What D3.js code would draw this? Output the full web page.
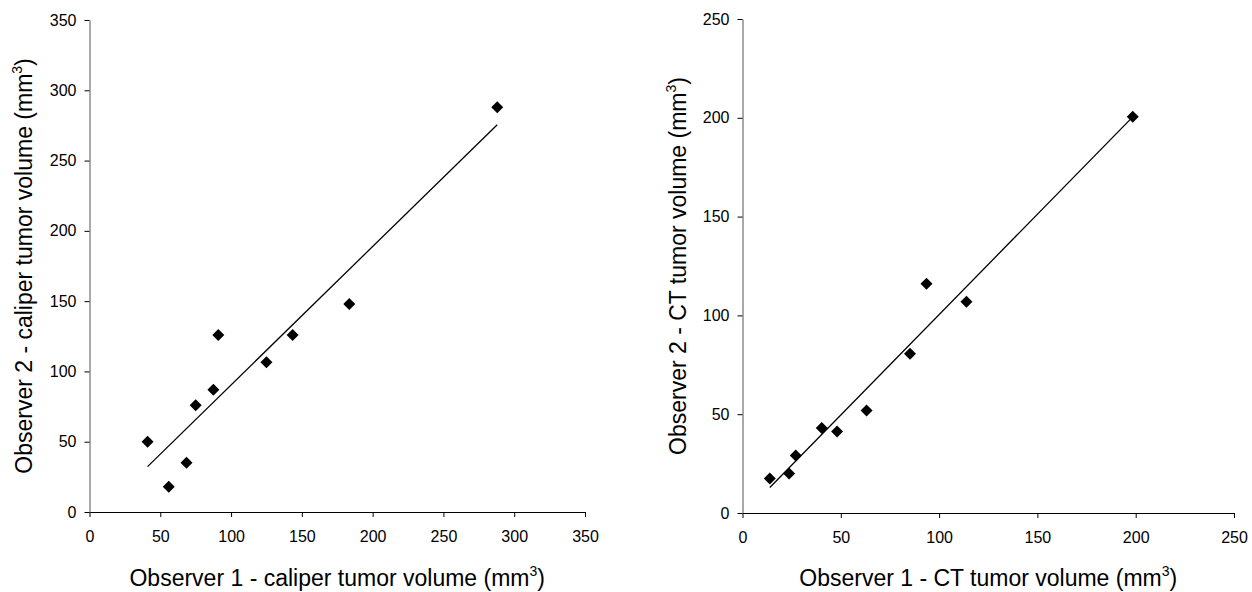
<!DOCTYPE html>
<html>
<head>
<meta charset="utf-8">
<script src="https://cdn.jsdelivr.net/npm/d3@7"></script>
<style>
  html, body { margin: 0; padding: 0; background: #fff; }
  svg { display: block; font-family: "Liberation Sans", Arial, sans-serif; }
</style>
</head>
<body>
<svg id="chart" width="1252" height="592"></svg>
<script>
// ---- Data ----
const caliperObs1 = [41, 56, 68.5, 75, 87.5, 91, 125, 143.5, 183.5, 288];
const caliperObs2 = [50, 18, 35, 76, 87, 126, 106.5, 126, 148, 288];
const ctObs1 = [13.9, 23.7, 27.1, 40.3, 48.1, 63.1, 85.2, 93.6, 113.9, 198.5];
const ctObs2 = [17.5, 20, 29.1, 43, 41.3, 51.9, 80.6, 116, 106.9, 200.5];
const caliperTicks = [0, 50, 100, 150, 200, 250, 300, 350];
const ctTicks = [0, 50, 100, 150, 200, 250];
const caliperXTitle = "Observer 1 - caliper tumor volume (mm";
const caliperYTitle = "Observer 2 - caliper tumor volume (mm";
const ctXTitle = "Observer 1 - CT tumor volume (mm";
const ctYTitle = "Observer 2 - CT tumor volume (mm";

const svg = d3.select("#chart");

const diamond = {
  draw(ctx, size) {
    const r = Math.sqrt(size / 2);
    ctx.moveTo(0, -r); ctx.lineTo(r, 0); ctx.lineTo(0, r); ctx.lineTo(-r, 0); ctx.closePath();
  }
};

function regression(xs, ys) {
  const mx = d3.mean(xs), my = d3.mean(ys);
  let sxy = 0, sxx = 0;
  xs.forEach((x, i) => { sxy += (x - mx) * (ys[i] - my); sxx += (x - mx) * (x - mx); });
  const b = sxy / sxx;
  return { slope: b, intercept: my - b * mx };
}

function panel(cfg) {
  const g = svg.append("g");
  const x = d3.scaleLinear().domain([0, cfg.max]).range([cfg.x0, cfg.x1]);
  const y = d3.scaleLinear().domain([0, cfg.max]).range([cfg.y0, cfg.y1]);

  const xAxis = g.append("g").attr("transform", `translate(0,${cfg.y0})`)
    .call(d3.axisBottom(x).tickValues(cfg.ticks).tickSize(5).tickSizeOuter(0).tickPadding(14).tickFormat(d3.format("d")));
  const yAxis = g.append("g").attr("transform", `translate(${cfg.x0},0)`)
    .call(d3.axisLeft(y).tickValues(cfg.ticks).tickSize(5).tickSizeOuter(0).tickPadding(8).tickFormat(d3.format("d")));
  [xAxis, yAxis].forEach(a => {
    a.selectAll("text").attr("font-size", 16).attr("fill", "#000").attr("font-family", "Liberation Sans, Arial, sans-serif");
    a.selectAll("line").attr("stroke", "#000");
  });
  xAxis.select(".domain").attr("stroke", "#000");
  yAxis.select(".domain").attr("stroke", "#555");

  // trendline
  const reg = regression(cfg.xs, cfg.ys);
  const xmin = d3.min(cfg.xs), xmax = d3.max(cfg.xs);
  g.append("line")
    .attr("x1", x(xmin)).attr("y1", y(reg.intercept + reg.slope * xmin))
    .attr("x2", x(xmax)).attr("y2", y(reg.intercept + reg.slope * xmax))
    .attr("stroke", "#000").attr("stroke-width", 1.3);

  // points
  const sym = d3.symbol().type(diamond).size(72);
  g.selectAll("path.pt").data(cfg.xs.map((v, i) => [v, cfg.ys[i]])).enter()
    .append("path").attr("class", "pt")
    .attr("transform", d => `translate(${x(d[0])},${y(d[1])})`)
    .attr("d", sym).attr("fill", "#000");

  // x title
  const xt = g.append("text").attr("x", (cfg.x0 + cfg.x1) / 2).attr("y", 586)
    .attr("text-anchor", "middle").attr("font-size", 23).attr("fill", "#000");
  xt.append("tspan").text(cfg.xTitle);
  xt.append("tspan").attr("font-size", 14).attr("dy", -10).text("3");
  xt.append("tspan").attr("dy", 10).text(")");

  // y title
  const yt = g.append("text")
    .attr("transform", `translate(${cfg.yTitleX},${(cfg.y0 + cfg.y1) / 2}) rotate(-90)`)
    .attr("text-anchor", "middle").attr("font-size", 23).attr("fill", "#000");
  yt.append("tspan").text(cfg.yTitle);
  yt.append("tspan").attr("font-size", 14).attr("dy", -10).text("3");
  yt.append("tspan").attr("dy", 10).text(")");
}

panel({ xs: caliperObs1, ys: caliperObs2, max: 350, ticks: caliperTicks,
  x0: 89.5, x1: 585, y0: 512, y1: 20, xTitle: caliperXTitle, yTitle: caliperYTitle, yTitleX: 32 });
panel({ xs: ctObs1, ys: ctObs2, max: 250, ticks: ctTicks,
  x0: 742.5, x1: 1234, y0: 513, y1: 19, xTitle: ctXTitle, yTitle: ctYTitle, yTitleX: 686 });
</script>
</body>
</html>
